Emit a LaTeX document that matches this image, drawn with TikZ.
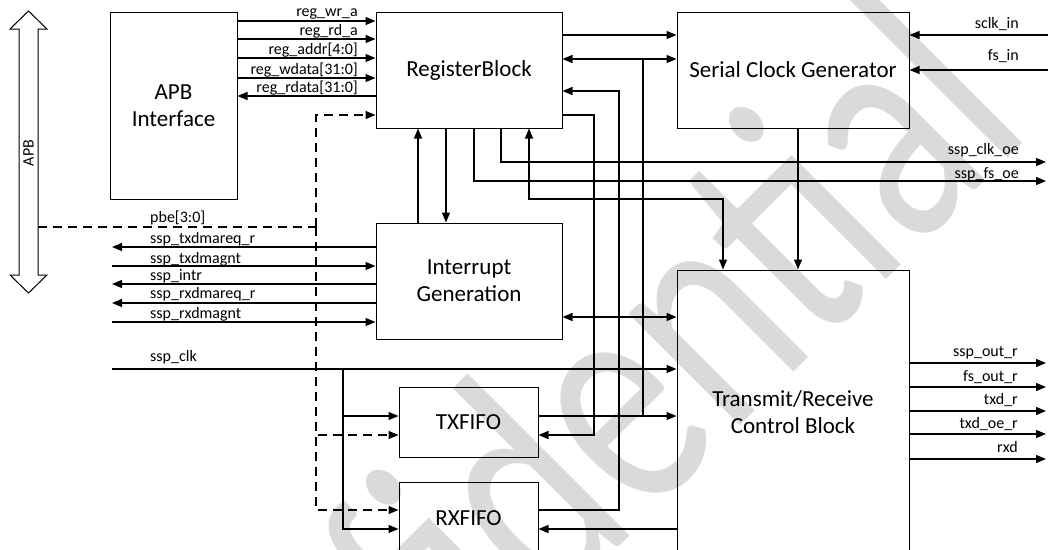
\documentclass[tikz,border=0pt]{standalone}
\usepackage{fontspec}
\setmainfont{Carlito}
\usetikzlibrary{arrows.meta,calc}
\definecolor{wmgray}{RGB}{218,218,218}
\begin{document}
\begin{tikzpicture}[x=1pt,y=-1pt,
  box/.style={draw, line width=1pt, inner sep=0pt, align=center, font=\fontsize{23}{27}\selectfont},
  conn/.style={line width=1.3pt},
  arr/.style={conn, -{Triangle[length=10pt,width=8pt]}},
  barr/.style={conn, {Triangle[length=10pt,width=8pt]}-{Triangle[length=10pt,width=8pt]}},
  rarr/.style={conn, {Triangle[length=10pt,width=8pt]}-},
  dsh/.style={line width=1.3pt, dash pattern=on 9pt off 6pt},
  lbl/.style={font=\fontsize{16}{19}\selectfont, inner sep=0pt},
  lr/.style={lbl, anchor=base east},
  ll/.style={lbl, anchor=base west},
]
\useasboundingbox (0,0) rectangle (1048,549);
\clip (0,0) rectangle (1048,549);

% watermark
\node[rotate=45, anchor=base east, text=wmgray, font=\fontsize{330}{330}\selectfont, inner sep=0pt] (wm) at (1036,130) {\scalebox{0.74}[1]{Confidential}};

% blocks
\node[box, minimum width=127pt, minimum height=187pt] (apb) at (173.5,105.5) {APB\\Interface};
\node[box, minimum width=186pt, minimum height=116pt] (reg) at (469,70) {RegisterBlock};
\node[box, minimum width=232pt, minimum height=116pt] (scg) at (793,70) {Serial Clock Generator};
\node[box, minimum width=186pt, minimum height=116pt] (intr) at (469,281) {Interrupt\\Generation};
\node[box, minimum width=139pt, minimum height=70pt] (tx) at (468.5,422) {TXFIFO};
\node[box, minimum width=139pt, minimum height=72pt] (rx) at (468.5,518) {RXFIFO};
\node[box, minimum width=232pt, minimum height=284pt] (tr) at (793,412) {Transmit/Receive\\Control Block};

% APB bus block arrow
\draw[line width=1pt] (28.5,11) -- (47,29) -- (38,29) -- (38,275) -- (47,275) -- (28.5,293) -- (10,275) -- (19,275) -- (19,29) -- (10,29) -- cycle;
\node[lbl, rotate=90] (apblbl) at (28.5,153) {APB};
\coordinate (bus) at (38,227);

% APB interface <-> register block
\foreach \y in {21,39,58,78} \draw[arr] (apb.east |- 0,\y) -- (reg.west |- 0,\y);
\draw[arr] (reg.west |- 0,96) -- (apb.east |- 0,96);
\node[lr] (t1) at (358,16.5) {reg\_wr\_a};
\node[lr] (t2) at (358,35.5) {reg\_rd\_a};
\node[lr] (t3) at (358,54.5) {reg\_addr[4:0]};
\node[lr] (t4) at (358,74) {reg\_wdata[31:0]};
\node[lr] (t5) at (358,92.5) {reg\_rdata[31:0]};

% pbe dashed
\coordinate (dj) at (316,227);
\draw[dsh] (bus) -- (dj);
\draw[dsh, -{Triangle[length=10pt,width=8pt]}] (dj) |- (reg.west |- 0,115);
\draw[dsh, -{Triangle[length=10pt,width=8pt]}] (dj) |- (tx.west |- 0,435);
\draw[dsh, -{Triangle[length=10pt,width=8pt]}] (dj) |- (rx.west |- 0,510);
\node[ll] (t6) at (150,222) {pbe[3:0]};

% register block <-> serial clock generator
\draw[arr] (reg.east |- 0,35) -- (scg.west |- 0,35);
\draw[barr] (reg.east |- 0,59) -- (scg.west |- 0,59);
\draw[conn] (643,59) -- (643,416);
\draw[arr] (tx.east |- 0,416) -- (tr.west |- 0,416);
\draw[arr] (rx.east |- 0,510) -| (619,91) -- (reg.east |- 0,91);
\draw[arr] (reg.east |- 0,115) -| (594,435) -- (tx.east |- 0,435);
\draw[arr] (tr.west |- 0,529) -- (rx.east |- 0,529);

% register block <-> interrupt
\draw[arr] (intr.north -| 418,0) -- (reg.south -| 418,0);
\draw[arr] (reg.south -| 446,0) -- (intr.north -| 446,0);

% oe outputs
\coordinate (clkoe) at (1046,162);
\coordinate (fsoe) at (1046,181);
\draw[arr] (reg.south -| 474,0) |- (fsoe);
\draw[arr] (reg.south -| 501,0) |- (clkoe);
\node[lr] (t7) at (1019,154) {ssp\_clk\_oe};
\node[lr] (t8) at (1019,178) {ssp\_fs\_oe};

\draw[barr] (reg.south -| 529,0) |- (723,199) -- (tr.north -| 723,0);
\draw[arr] (scg.south -| 798,0) -- (tr.north -| 798,0);
\draw[barr] (intr.east |- 0,317) -- (tr.west |- 0,317);

% serial inputs
\coordinate (sclkin) at (1048,35);
\coordinate (fsin) at (1048,70);
\draw[arr] (sclkin) -- (scg.east |- sclkin);
\draw[arr] (fsin) -- (scg.east |- fsin);
\node[lr] (t9) at (1019,28) {sclk\_in};
\node[lr] (t10) at (1019,60) {fs\_in};

% left interrupt signals
\coordinate (a1) at (112,247);
\coordinate (a2) at (112,266);
\coordinate (a3) at (112,284);
\coordinate (a4) at (112,303);
\coordinate (a5) at (112,322);
\draw[rarr] (a1) -- (intr.west |- a1);
\draw[arr] (a2) -- (intr.west |- a2);
\draw[rarr] (a3) -- (intr.west |- a3);
\draw[rarr] (a4) -- (intr.west |- a4);
\draw[arr] (a5) -- (intr.west |- a5);
\node[ll] (t11) at (150,243) {ssp\_txdmareq\_r};
\node[ll] (t12) at (150,263) {ssp\_txdmagnt};
\node[ll] (t13) at (150,280) {ssp\_intr};
\node[ll] (t14) at (150,298) {ssp\_rxdmareq\_r};
\node[ll] (t15) at (150,318) {ssp\_rxdmagnt};

% ssp_clk
\coordinate (clk) at (112,369);
\coordinate (cj) at (343,369);
\draw[arr] (clk) -- (tr.west |- clk);
\draw[arr] (cj) |- (tx.west |- 0,416);
\draw[arr] (cj) |- (rx.west |- 0,529);
\node[ll] (t16) at (150,361) {ssp\_clk};

% TR outputs
\coordinate (o1) at (1046,363);
\coordinate (o2) at (1046,387);
\coordinate (o3) at (1046,411);
\coordinate (o4) at (1046,434);
\coordinate (o5) at (1046,459);
\foreach \o in {o1,o2,o3,o4,o5} \draw[arr] (tr.east |- \o) -- (\o);
\node[lr] (t17) at (1018,356) {ssp\_out\_r};
\node[lr] (t18) at (1018,381) {fs\_out\_r};
\node[lr] (t19) at (1018,404) {txd\_r};
\node[lr] (t20) at (1018,428) {txd\_oe\_r};
\node[lr] (t21) at (1018,452) {rxd};
\end{tikzpicture}
\end{document}
